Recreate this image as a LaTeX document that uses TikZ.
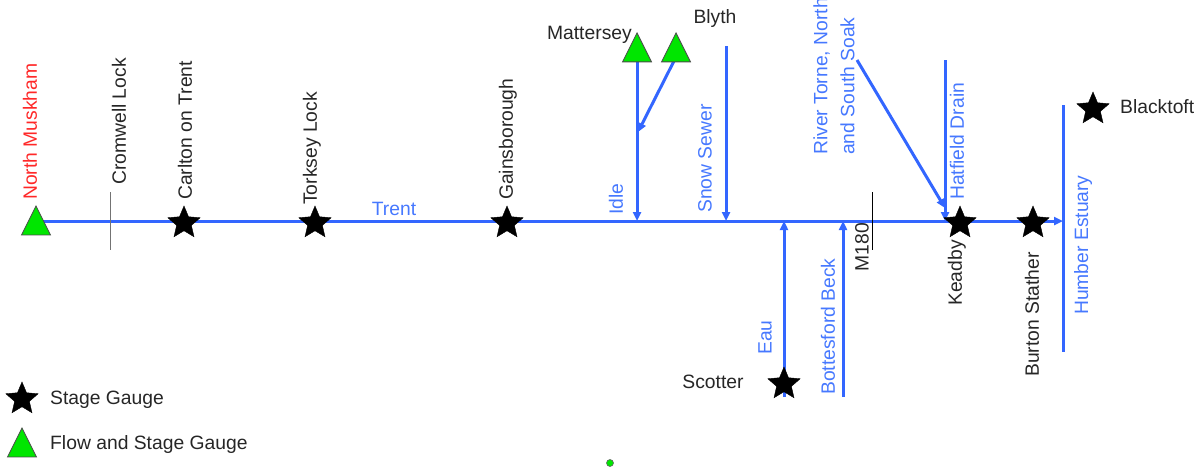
\documentclass[tikz,border=0pt]{standalone}
\usepackage{fontspec}
\setmainfont{Liberation Sans}
\usetikzlibrary{shapes.geometric,arrows.meta,backgrounds}
\definecolor{riverblue}{RGB}{51,102,255}
\definecolor{rivertext}{RGB}{70,120,255}
\definecolor{gaugegreen}{RGB}{0,230,0}
\definecolor{mkred}{RGB}{255,40,40}
\tikzset{
  lbl/.style={inner sep=0pt, font=\fontsize{19.3}{27}\selectfont, text=black!85},
  vlbl/.style={lbl, rotate=90},
  rlbl/.style={vlbl, text=rivertext},
  river/.style={draw=riverblue, line width=3pt},
  riverarrow/.style={river, -{Triangle[length=9pt,width=8pt]}},
  stagegauge/.style={star, star points=5, star point ratio=2.2, minimum size=34pt, inner sep=0pt, fill=black, draw=black},
  flowgauge/.style={isosceles triangle, shape border rotate=90, isosceles triangle apex angle=53, isosceles triangle stretches, minimum width=29pt, minimum height=29pt, inner sep=0pt, fill=gaugegreen, draw=black!70, line width=0.8pt, anchor=apex},
  tick/.style={line width=1pt}
}
\begin{document}
\begin{tikzpicture}[x=1pt,y=-1pt]
\useasboundingbox (0,0) rectangle (1200,469);
% gauges
\node[flowgauge] (nm) at (36,205) {};
\node[stagegauge] (carlton) at (184,223) {};
\node[stagegauge] (torksey) at (315,223) {};
\node[stagegauge] (gains) at (507,223) {};
\node[stagegauge] (keadby) at (960,223) {};
\node[stagegauge] (burton) at (1033,223) {};
\node[stagegauge] (scotter) at (784,384) {};
\node[stagegauge] (blacktoft) at (1093,109) {};
\node[flowgauge] (matt) at (637,32) {};
\node[flowgauge] (blyth) at (676,32) {};
% coordinates
\coordinate (nmC) at (36,221);
\coordinate (hTop) at (1063,105);
\coordinate (hMid) at (1063,221);
\coordinate (hBot) at (1063,352);
\coordinate (idleEnd) at (637,221);
\coordinate (blythEnd) at (638,132);
\coordinate (blythStart) at (674,61);
\coordinate (snowTop) at (726,46);
\coordinate (snowEnd) at (726,221);
\coordinate (torneTop) at (857,60);
\coordinate (torneEnd) at (945,208);
\coordinate (hatTop) at (945,60);
\coordinate (hatEnd) at (945,221);
\coordinate (eauBot) at (784,397);
\coordinate (eauEnd) at (784,221);
\coordinate (botBot) at (843,397);
\coordinate (botEnd) at (843,221);
\coordinate (cromTop) at (110,192);
\coordinate (cromBot) at (110,250);
\coordinate (mTop) at (872,192);
\coordinate (mBot) at (872,250);
\begin{scope}[on background layer]
\draw[riverarrow] (nmC) -- (hMid);
\draw[river] (hTop) -- (hBot);
\draw[riverarrow] (matt.south) -- (idleEnd);
\draw[riverarrow] (blythStart) -- (blythEnd);
\draw[riverarrow] (snowTop) -- (snowEnd);
\draw[riverarrow] (torneTop) -- (torneEnd);
\draw[riverarrow] (hatTop) -- (hatEnd);
\draw[riverarrow] (eauBot) -- (eauEnd);
\draw[riverarrow] (botBot) -- (botEnd);
\draw[tick, draw=black!55] (cromTop) -- (cromBot);
\draw[tick, draw=black] (mTop) -- (mBot);
\end{scope}
% labels
\node[vlbl, anchor=west, text=mkred] (lnm) at (30,200) {North Muskham};
\node[vlbl, anchor=west] (lcrom) at (119,185) {Cromwell Lock};
\node[vlbl, anchor=west] (lcarl) at (185,200) {Carlton on Trent};
\node[vlbl, anchor=west] (ltork) at (312,205) {Torksey Lock};
\node[vlbl, anchor=west] (lgain) at (508,200) {Gainsborough};
\node[lbl, text=rivertext] (ltrent) at (394,209) {Trent};
\node[rlbl, anchor=west] (lidle) at (616,215) {Idle};
\node[rlbl, anchor=west] (lsnow) at (705,213) {Snow Sewer};
\node[rlbl, anchor=west, align=left] (ltorne) at (834,155) {River Torne, North\\and South Soak};
\node[rlbl, anchor=west] (lhat) at (957,200) {Hatfield Drain};
\node[vlbl, anchor=east] (lkead) at (957,240) {Keadby};
\node[vlbl, anchor=east] (lburt) at (1032,252) {Burton Stather};
\node[rlbl, anchor=west] (lhum) at (1083,315) {Humber Estuary};
\node[vlbl, anchor=east] (lm180) at (862,223) {M180};
\node[rlbl, anchor=west] (leau) at (765,355) {Eau};
\node[rlbl, anchor=west] (lbot) at (828,395) {Bottesford Beck};
\node[lbl] (lscot) at (713,382) {Scotter};
\node[lbl, anchor=east] (lmatt) at (632,35) {Mattersey};
\node[lbl] (lblyth) at (715,19) {Blyth};
\node[lbl, anchor=west] (lblack) at (1120,107) {Blacktoft};
% legend
\node[stagegauge] (legstar) at (22,399) {};
\node[flowgauge] (legtri) at (22,427) {};
\node[lbl, anchor=west] (legt1) at (50,400) {Stage Gauge};
\node[lbl, anchor=west] (legt2) at (50,445) {Flow and Stage Gauge};
% dot
\node[circle, minimum size=7pt, inner sep=0pt, fill=gaugegreen, draw=black!60, line width=0.6pt] (dot) at (610,463) {};
\end{tikzpicture}
\end{document}
